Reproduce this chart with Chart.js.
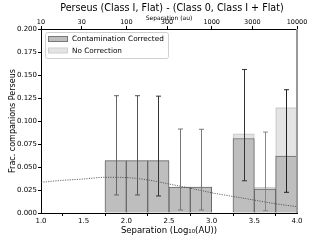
<!DOCTYPE html>
<html>
<head>
<meta charset="utf-8">
<script src="https://cdn.jsdelivr.net/npm/chart.js@4/dist/chart.umd.min.js"></script>
<style>
  html, body { margin: 0; padding: 0; background: #fff; }
  #wrap { width: 330px; height: 240px; }
</style>
</head>
<body>
<div id="wrap"><canvas id="chart"></canvas></div>
<script>
// bin centres (log10 AU) and fractions
const binCenters = [1.875, 2.125, 2.375, 2.625, 2.875, 3.375, 3.625, 3.875];
const fracCorrected = [0.057, 0.057, 0.057, 0.0283, 0.0283, 0.081, 0.026, 0.062];
const fracNoCorr = [0.057, 0.057, 0.057, 0.0283, 0.0283, 0.086, 0.028, 0.1145];
const errLow = [0.0196, 0.0196, 0.0185, 0.0033, 0.0033, 0.035, 0.0025, 0.0225];
const errHigh = [0.1275, 0.1275, 0.127, 0.0913, 0.091, 0.156, 0.088, 0.134];
const errColors = ['#666', '#555', '#333', '#777', '#777', '#333', '#888', '#222'];

// dotted model curve
const curveX = [1.0, 1.25, 1.5, 1.75, 2.0, 2.25, 2.5, 2.75, 3.0, 3.25, 3.5, 3.75, 4.0];
const curveY = [0.0334, 0.0355, 0.037, 0.0388, 0.0385, 0.036, 0.0315, 0.027, 0.022, 0.018, 0.014, 0.010, 0.0069];

const topTicks = [10, 30, 100, 300, 1000, 3000, 10000];
const titleText = 'Perseus (Class I, Flat) - (Class 0, Class I + Flat)';
const FONT = 'DejaVu Sans';

const errorBars = {
  id: 'errorBars',
  afterDatasetsDraw(chart) {
    const { ctx, scales: { x, y } } = chart;
    ctx.save();
    ctx.lineWidth = 1;
    binCenters.forEach((c, i) => {
      const px = Math.round(x.getPixelForValue(c)) + 0.5;
      const lo = y.getPixelForValue(errLow[i]);
      const hi = y.getPixelForValue(errHigh[i]);
      ctx.strokeStyle = errColors[i];
      ctx.beginPath();
      ctx.moveTo(px, lo); ctx.lineTo(px, hi);
      ctx.moveTo(px - 2.5, lo); ctx.lineTo(px + 2.5, lo);
      ctx.moveTo(px - 2.5, hi); ctx.lineTo(px + 2.5, hi);
      ctx.stroke();
    });
    ctx.restore();
  }
};

const frameAndLegend = {
  id: 'frameAndLegend',
  afterDraw(chart) {
    const { ctx, chartArea: a } = chart;
    ctx.save();
    // title, centred over the axes like matplotlib
    ctx.fillStyle = '#000';
    ctx.font = '9.6px "' + FONT + '"';
    ctx.textAlign = 'center';
    ctx.textBaseline = 'middle';
    ctx.fillText(titleText, (a.left + a.right) / 2 + 3, 8);
    ctx.textAlign = 'left';

    // right spine
    ctx.strokeStyle = '#999';
    ctx.lineWidth = 2;
    ctx.beginPath();
    ctx.moveTo(a.right, a.top); ctx.lineTo(a.right, a.bottom);
    ctx.stroke();

    // legend
    const bx = a.left + 4, by = a.top + 3, bw = 123, bh = 26;
    ctx.fillStyle = 'rgba(255,255,255,0.85)';
    ctx.strokeStyle = '#d0d0d0';
    ctx.lineWidth = 1;
    ctx.beginPath();
    ctx.roundRect(bx + 0.5, by + 0.5, bw, bh, 2);
    ctx.fill(); ctx.stroke();

    const items = [
      { label: chart.data.datasets[1].label, fill: '#bebebe', edge: '#777' },
      { label: chart.data.datasets[2].label, fill: '#e4e4e4', edge: '#cfcfcf' }
    ];
    ctx.font = '7.3px "' + FONT + '"';
    items.forEach((it, i) => {
      const cy = by + 7 + i * 11.5;
      ctx.fillStyle = it.fill;
      ctx.strokeStyle = it.edge;
      ctx.fillRect(bx + 3.5, cy - 2.5, 19, 5);
      ctx.strokeRect(bx + 3.5, cy - 2.5, 19, 5);
      ctx.fillStyle = '#000';
      ctx.fillText(it.label, bx + 27, cy + 0.5);
    });
    ctx.restore();
  }
};

new Chart(document.getElementById('chart'), {
  data: {
    datasets: [
      {
        type: 'line',
        data: curveX.map((v, i) => ({ x: v, y: curveY[i] })),
        borderColor: '#444',
        borderWidth: 0.8,
        borderDash: [1.2, 1.2],
        pointRadius: 0,
        cubicInterpolationMode: 'monotone',
        order: 0
      },
      {
        type: 'bar',
        label: 'Contamination Corrected',
        data: binCenters.map((v, i) => ({ x: v, y: fracCorrected[i] })),
        backgroundColor: '#bebebe',
        borderColor: '#6a6a6a',
        borderWidth: 1,
        grouped: false,
        barPercentage: 1,
        categoryPercentage: 1,
        order: 1
      },
      {
        type: 'bar',
        label: 'No Correction',
        data: binCenters.map((v, i) => ({ x: v, y: fracNoCorr[i] })),
        backgroundColor: '#e4e4e4',
        borderColor: '#cfcfcf',
        borderWidth: 1.5,
        grouped: false,
        barPercentage: 1,
        categoryPercentage: 1,
        order: 2
      }
    ]
  },
  options: {
    responsive: true,
    maintainAspectRatio: false,
    animation: false,
    layout: { padding: { left: 0, right: 33, top: 15.2, bottom: 0 } },
    plugins: {
      legend: { display: false },
      tooltip: { enabled: false },
      title: { display: false }
    },
    scales: {
      x: {
        type: 'linear',
        position: 'bottom',
        min: 1, max: 4, offset: false,
        ticks: { stepSize: 0.5, color: '#000', font: { family: FONT, size: 7 }, padding: 1, maxRotation: 0,
          callback: v => v.toFixed(1) },
        grid: { drawOnChartArea: false, drawTicks: true, tickLength: 3, color: '#000' },
        border: { color: '#000', width: 1 },
        title: { display: true, text: 'Separation (Log₁₀(AU))', color: '#000',
          font: { family: FONT, size: 8.5 }, padding: { top: 0, bottom: 4 } },
        afterFit: s => { s.height = 27; }
      },
      x2: {
        type: 'logarithmic',
        position: 'top',
        min: 10, max: 10000,
        afterBuildTicks: s => { s.ticks = topTicks.map(v => ({ value: v })); },
        ticks: { color: '#000', font: { family: FONT, size: 6.5 }, padding: 0, maxRotation: 0,
          callback: v => String(v) },
        grid: { drawOnChartArea: false, drawTicks: true, tickLength: 3, color: '#000' },
        border: { color: '#000', width: 1 },
        title: { display: true, text: 'Separation (au)', color: '#000',
          font: { family: FONT, size: 6 }, padding: { top: 0, bottom: 0 } },
        afterFit: s => { s.height = 13.8; }
      },
      y: {
        min: 0, max: 0.2,
        ticks: { stepSize: 0.025, color: '#000', font: { family: FONT, size: 7 }, padding: 1,
          callback: v => v.toFixed(3) },
        grid: { drawOnChartArea: false, drawTicks: true, tickLength: 3, color: '#000' },
        border: { color: '#000', width: 1 },
        title: { display: true, text: 'Frac. companions Perseus', color: '#000',
          font: { family: FONT, size: 8 }, padding: { top: 8, bottom: 1 } },
        afterFit: s => { s.width = 41; }
      }
    }
  },
  plugins: [errorBars, frameAndLegend]
});
</script>
</body>
</html>
